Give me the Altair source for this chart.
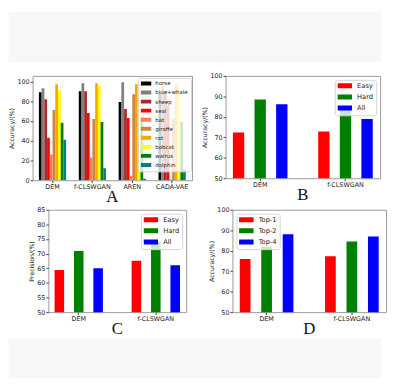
import altair as alt
import pandas as pd

# ---------------- data ----------------
groups_a = ["DEM", "f-CLSWGAN", "AREN", "CADA-VAE"]
classes_a = ["horse", "blue+whale", "sheep", "seal", "bat", "giraffe",
             "rat", "bobcat", "walrus", "dolphin"]
colors_a = ["#000000", "#808080", "#a52a2a", "#ff0000", "#ff7f50",
            "#cd853f", "#ffa500", "#ffff00", "#008000", "#008080"]
acc_dem = [89, 93, 82, 43, 26, 71, 97, 91, 58, 41]
acc_fclswgan = [90, 98, 90, 68, 23, 62, 98, 96, 59, 12]
acc_aren = [79, 99, 72, 63, 4, 87, 97, 93, 64, 1.5]
acc_cadavae = [88, 95, 90, 75, 1, 62, 97, 95, 59, 11]

groups_bcd = ["DEM", "f-CLSWGAN"]
levels_bc = ["Easy", "Hard", "All"]
levels_d = ["Top-1", "Top-2", "Top-4"]
colors_rgb = ["#ff0000", "#008000", "#0000ff"]

b_easy = [72.4, 72.8]
b_hard = [88.5, 84.5]
b_all = [86.2, 78.9]

c_easy = [64.4, 67.6]
c_hard = [70.9, 74.0]
c_all = [65.0, 66.0]

d_top1 = [76.0, 77.3]
d_top2 = [82.0, 84.5]
d_top4 = [88.0, 87.0]

ticks_a = [0, 20, 40, 60, 80, 100]
ticks_bd = [50, 60, 70, 80, 90, 100]
ticks_c = [50, 55, 60, 65, 70, 75, 80, 85]

# ---------------- tables ----------------
rows = []
for g, vals in zip(groups_a, [acc_dem, acc_fclswgan, acc_aren, acc_cadavae]):
    for c, v in zip(classes_a, vals):
        rows.append({"group": g, "series": c, "value": v})
df_a = pd.DataFrame(rows)


def table(series_names, series_vals):
    out = []
    for s, vals in zip(series_names, series_vals):
        for g, v in zip(groups_bcd, vals):
            out.append({"group": g, "series": s, "value": v})
    return pd.DataFrame(out)


df_b = table(levels_bc, [b_easy, b_hard, b_all])
df_c = table(levels_bc, [c_easy, c_hard, c_all])
df_d = table(levels_d, [d_top1, d_top2, d_top4])

FRAME = alt.ViewBackground(stroke="#9a9a9a", strokeWidth=1)


def panel(df, groups, order, colors, ytitle, ticks, domain, w, h,
          pi, po, qi, qo, legend, title):
    return alt.Chart(df).mark_bar(clip=True).encode(
        x=alt.X("group:N", sort=groups,
                scale=alt.Scale(paddingInner=pi, paddingOuter=po),
                axis=alt.Axis(title=None, labelAngle=0)),
        xOffset=alt.XOffset("series:N", sort=order,
                            scale=alt.Scale(domain=order, paddingInner=qi, paddingOuter=qo)),
        y=alt.Y("value:Q", scale=alt.Scale(domain=domain, nice=False, zero=False),
                axis=alt.Axis(values=ticks, title=ytitle)),
        color=alt.Color("series:N", scale=alt.Scale(domain=order, range=colors),
                        legend=legend),
    ).properties(
        width=w, height=h, view=FRAME,
        title=alt.TitleParams(text=title, orient="bottom", font="Liberation Serif",
                              fontSize=17, fontWeight="normal", color="#111",
                              frame="group", offset=-1),
    )


def leg(orient, offset, path, size, clip, rowpad, fs, loff, pad):
    return alt.Legend(title=None, orient=orient, offset=offset,
                      symbolType=path, symbolSize=size, clipHeight=clip,
                      rowPadding=rowpad, labelFontSize=fs, labelFont="DejaVu Sans",
                      labelColor="#222", labelOffset=loff, padding=pad,
                      fillColor="rgba(255,255,255,0.8)", strokeColor="#d4d4d4",
                      cornerRadius=2, symbolStrokeWidth=0, symbolOpacity=1)


chart_a = panel(df_a, groups_a, classes_a, colors_a, "Accuracy/(%)", ticks_a, [0, 105.5],
                162, 106, 0.316, 0.158, 0.0, 0.0,
                leg("top-right", 1.5, "M-1,-0.37H1V0.37H-1Z", 114, 6, 2.2, 5.5, 4, 2.7), "A")
chart_b = panel(df_b, groups_bcd, levels_bc, colors_rgb, "Accuracy/(%)", ticks_bd, [50, 100],
                157, 104, 0.24, 0.026, 0.475, 0.2375,
                leg("top-right", 3.6, "M-1,-0.34H1V0.34H-1Z", 216, 7, 3.3, 6.8, 5, 2.6), "B")
chart_c = panel(df_c, groups_bcd, levels_bc, colors_rgb, "Precision/(%)", ticks_c, [50, 85],
                140, 104, 0.245, 0.0165, 0.508, 0.254,
                leg("top-right", 3.6, "M-1,-0.34H1V0.34H-1Z", 216, 7, 3.3, 6.8, 5, 2.6), "C")
chart_d = panel(df_d, groups_bcd, levels_d, colors_rgb, "Accuracy/(%)", ticks_bd, [50, 100],
                156, 104, 0.245, 0.023, 0.5, 0.25,
                leg("top-left", 4, "M-1,-0.34H1V0.34H-1Z", 216, 7, 3.3, 6.8, 5, 2.6), "D")

ONE = pd.DataFrame({"v": [0]})


def spacer(w, h):
    return alt.Chart(ONE).mark_point(opacity=0).properties(
        width=w, height=h, view=alt.ViewBackground(stroke="transparent"))


def band(h):
    # page-grey strip above and below the white card
    return alt.Chart(ONE).mark_rect(color="#f6f7f9").encode(
        x=alt.value(-24.5), x2=alt.value(354), y=alt.value(0), y2=alt.value(h)
    ).properties(width=300, height=h, view=alt.ViewBackground(stroke="transparent"))


def indep(c):
    return c.resolve_scale(color="independent", xOffset="independent",
                           x="independent", y="independent").resolve_legend(
        color="independent")


row1 = indep(alt.hconcat(chart_a, chart_b, spacing=8))
row2_inner = indep(alt.hconcat(chart_c, chart_d, spacing=21))
row2 = indep(alt.hconcat(spacer(1, 1), row2_inner, spacing=-9))

chart = indep(alt.vconcat(
    band(51),
    spacer(1, 7),
    row1,
    row2,
    band(40),
    spacing=0,
)).properties(padding=0, background="white").configure_axis(
    labelFont="DejaVu Sans", labelFontSize=6.5, labelColor="#222",
    tickColor="#444", tickSize=2.5, labelPadding=1, domain=False, grid=False,
    titleFont="DejaVu Sans", titleFontSize=6.3, titleFontWeight="normal",
    titleColor="#222", titlePadding=2,
).configure_view(stroke="#9a9a9a")

chart.save("out.html", embed_options={"renderer": "svg", "actions": False})
